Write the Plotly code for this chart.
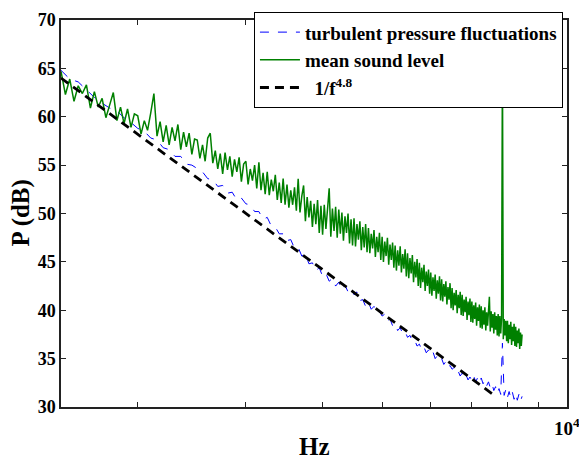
import numpy as np
import plotly.graph_objects as go

# frequency bins (Hz)
green_freq = np.arange(1500, 8451, 25)
blue_freq = np.arange(1500, 8451, 50)

green_db = [
    64.7, 62.3, 63.9, 61.6, 63.2, 62.4, 63.3, 60.9, 62.6, 61.0,
    61.9, 59.9, 61.2, 62.5, 59.6, 61.0, 59.3, 60.8, 58.9, 60.3,
    60.1, 58.2, 59.6, 58.6, 60.4, 62.4, 58.0, 59.5, 57.4, 59.1,
    57.1, 58.9, 57.5, 59.2, 56.6, 58.4, 56.9, 58.3, 56.1, 57.7,
    57.6, 55.7, 57.1, 55.4, 57.8, 58.3, 55.2, 56.5, 54.6, 56.2,
    54.1, 56.3, 54.5, 55.9, 53.8, 55.6, 54.3, 55.8, 53.3, 55.1,
    55.4, 53.0, 54.6, 53.4, 55.0, 52.6, 55.3, 52.4, 54.2, 52.0,
    54.3, 51.9, 53.5, 52.3, 54.0, 51.4, 53.2, 51.1, 53.6, 50.9,
    53.0, 50.6, 52.4, 50.9, 52.7, 50.3, 53.6, 50.1, 51.8, 52.9,
    49.2, 51.7, 49.6, 51.3, 48.6, 51.0, 48.9, 51.4, 48.0, 50.8,
    47.8, 50.9, 48.4, 50.3, 52.6, 47.6, 50.5, 48.2, 50.7, 47.5,
    50.4, 47.9, 50.1, 47.2, 49.7, 48.0, 50.0, 46.9, 49.4, 46.7,
    49.5, 46.6, 48.9, 47.3, 49.2, 46.2, 48.6, 46.5, 48.9, 46.0,
    48.5, 45.9, 47.9, 46.4, 48.3, 45.5, 47.6, 46.0, 48.0, 45.2,
    47.6, 45.0, 47.1, 45.6, 47.5, 44.7, 46.8, 45.2, 47.0, 44.4,
    46.7, 44.1, 46.2, 44.6, 46.6, 43.9, 45.8, 44.3, 46.3, 43.5,
    45.9, 43.3, 45.4, 43.8, 45.7, 42.9, 45.0, 43.4, 45.3, 42.5,
    44.9, 42.3, 44.4, 42.9, 44.7, 42.0, 44.0, 42.5, 44.2, 41.7,
    43.9, 41.5, 43.4, 42.0, 43.7, 41.2, 43.1, 41.7, 43.5, 41.0,
    43.2, 40.9, 42.7, 41.4, 43.0, 40.6, 42.4, 41.1, 42.8, 40.2,
    42.3, 40.0, 41.8, 40.5, 42.1, 39.7, 41.6, 40.2, 41.9, 39.5,
    41.6, 39.4, 41.1, 39.8, 41.4, 39.0, 40.9, 39.5, 41.2, 38.8,
    40.9, 38.7, 40.5, 39.1, 40.8, 38.4, 40.3, 38.9, 40.6, 38.2,
    40.4, 38.1, 40.0, 38.5, 40.3, 37.9, 39.8, 38.4, 40.1, 41.4,
    37.8, 39.9, 38.2, 39.6, 37.6, 39.8, 38.0, 39.4, 37.4, 39.6,
    37.3, 39.4, 37.6, 39.2, 66.0, 37.0, 39.1, 37.4, 38.9, 36.8,
    38.9, 36.6, 38.5, 37.0, 38.8, 36.4, 38.3, 36.8, 38.6, 36.3,
    38.3, 36.2, 37.9, 36.6, 38.1, 36.0, 37.7, 36.3, 37.5,
]

blue_db = [
    64.8, 63.9, 63.6, 62.8, 62.0,
    61.4, 60.9, 60.6, 59.9, 59.4,
    58.8, 58.5, 57.8, 57.6, 56.8,
    56.6, 55.9, 55.9, 55.1, 55.0,
    54.6, 54.3, 53.6, 53.5, 52.8,
    52.9, 52.1, 52.2, 51.4, 51.6,
    51.0, 50.9, 50.2, 50.2, 49.4,
    49.6, 48.7, 48.6, 47.9, 47.9,
    47.2, 47.3, 46.4, 46.5, 45.6,
    45.8, 44.8, 44.9, 44.1, 44.4,
    43.5, 43.8, 43.0, 43.3, 42.5,
    42.9, 42.1, 42.6, 41.9, 42.3,
    41.6, 41.9, 41.0, 41.1, 40.4,
    40.8, 40.1, 40.4, 39.7, 39.9,
    39.4, 39.6, 38.9, 39.1, 38.4,
    38.6, 37.9, 38.2, 37.6, 37.8,
    37.2, 37.4, 36.8, 36.9, 36.3,
    36.5, 35.9, 36.2, 35.6, 35.9,
    35.4, 35.7, 35.0, 35.3, 34.8,
    35.0, 34.4, 34.7, 34.1, 34.3,
    33.9, 34.1, 33.5, 33.7, 33.2,
    33.5, 33.0, 33.3, 32.8, 33.1,
    32.7, 33.2, 32.6, 33.0, 32.5,
    33.0, 32.4, 32.8, 32.2, 32.6,
    32.0, 32.4, 31.7, 32.1, 31.4,
    31.9, 31.3, 36.6, 31.2, 31.8,
    31.0, 31.6, 30.9, 31.5, 30.8,
    31.4, 30.7, 31.3, 30.6, 31.1,
]

fit_freq = [1500, 7580]
fit_db = [64.0, 31.3]

y_ticks = [30, 35, 40, 45, 50, 55, 60, 65, 70]
x_ticks = [2000, 3000, 4000, 5000, 6000, 7000, 8000, 9000, 10000]

FONT = "Liberation Serif"

fig = go.Figure()
fig.add_trace(go.Scatter(
    x=blue_freq, y=blue_db, mode="lines",
    name="turbulent pressure fluctuations",
    line=dict(color="#0000ff", width=1, dash="dash")))
fig.add_trace(go.Scatter(
    x=green_freq, y=green_db, mode="lines", name="mean sound level",
    line=dict(color="#008000", width=1.5)))
fig.add_trace(go.Scatter(
    x=fit_freq, y=fit_db, mode="lines",
    name="\u00a0\u00a01/f<sup>4.8</sup>",
    line=dict(color="black", width=2.8, dash="9px,6px")))

fig.update_layout(
    width=579, height=463,
    margin=dict(l=61, r=12, t=10, b=56),
    paper_bgcolor="white", plot_bgcolor="white",
    font=dict(family=FONT, size=17, color="black", weight=700),
    showlegend=True,
    legend=dict(x=0.992, y=1.02, xanchor="right", yanchor="top",
                bgcolor="white", bordercolor="black", borderwidth=1,
                font=dict(family=FONT, size=19, color="black", weight=700),
                tracegroupgap=0, itemwidth=40),
)
fig.update_xaxes(
    type="log", range=[np.log10(1500), 4],
    tickvals=x_ticks, ticktext=["" for _ in x_ticks],
    ticks="inside", ticklen=5, tickcolor="#222", showgrid=False,
    showline=True, linecolor="#222", linewidth=1.5, mirror="ticks",
    zeroline=False)
fig.update_yaxes(
    range=[30, 70], tickvals=y_ticks,
    ticks="inside", ticklen=5, tickcolor="#222", showgrid=False,
    showline=True, linecolor="#222", linewidth=1.5, mirror="ticks",
    zeroline=False, tickfont=dict(family=FONT, size=18, weight=700))

fig.add_annotation(x=1.0, y=-0.052, xref="paper", yref="paper",
                   text="10<sup>4</sup>", showarrow=False,
                   xanchor="center", yanchor="middle",
                   font=dict(family=FONT, size=19, weight=700))
fig.add_annotation(x=0.5, y=-0.143, xref="paper", yref="paper",
                   text="Hz", showarrow=False, xanchor="center",
                   yanchor="bottom", font=dict(family=FONT, size=25, weight=700))
fig.add_annotation(x=-0.081, y=0.5, xref="paper", yref="paper",
                   text="P (dB)", showarrow=False, textangle=-90,
                   xanchor="center", yanchor="middle",
                   font=dict(family=FONT, size=25, weight=700))

fig.write_html("out.html")
